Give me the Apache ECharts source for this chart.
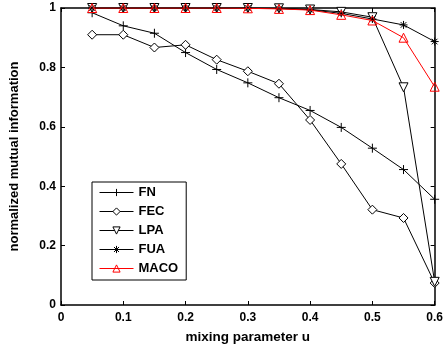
<!DOCTYPE html>
<html>
<head>
<meta charset="utf-8">
<script src="https://cdn.jsdelivr.net/npm/echarts@6/dist/echarts.min.js"></script>
<style>
  html, body { margin: 0; padding: 0; background: #fff; }
  #chart { width: 446px; height: 349px; }
</style>
</head>
<body>
<div id="chart"></div>
<script>
// mixing parameter u
const mixing = [0.05, 0.1, 0.15, 0.2, 0.25, 0.3, 0.35, 0.4, 0.45, 0.5, 0.55, 0.6];

const fnValues   = [0.984, 0.94, 0.915, 0.85, 0.793, 0.748, 0.698, 0.655, 0.598, 0.528, 0.456, 0.356];
const fecValues  = [0.91, 0.91, 0.867, 0.876, 0.826, 0.787, 0.745, 0.623, 0.475, 0.321, 0.293, 0.074];
const lpaValues  = [1, 1, 1, 1, 1, 1, 0.999, 0.995, 0.987, 0.969, 0.733, 0.078];
const fuaValues  = [1, 1, 1, 1, 1, 1, 0.998, 0.994, 0.982, 0.963, 0.943, 0.887];
const macoValues = [1, 1, 1, 1, 1, 0.999, 0.997, 0.993, 0.977, 0.958, 0.9, 0.735];

const FONT = '"Liberation Sans", Arial, sans-serif';
const plusPath = 'path://M5,0L5,10M0,5L10,5';
const starPath = 'path://M5,0L5,10M0,5L10,5M1.5,1.5L8.5,8.5M8.5,1.5L1.5,8.5';

const chart = echarts.init(document.getElementById('chart'), null, { renderer: 'canvas' });

const pairs = vals => mixing.map((u, i) => [u, vals[i]]);

const frameAxis = {
  axisLine: { show: true, onZero: false, lineStyle: { color: '#000', width: 1.5 } },
  axisTick: { show: true, inside: true, length: 4, lineStyle: { color: '#000', width: 1 } },
  splitLine: { show: false }
};

function makeSeries(name, vals, symbol, opts) {
  opts = opts || {};
  const color = opts.color || '#000';
  return {
    name: name,
    type: 'line',
    data: pairs(vals),
    symbol: symbol,
    symbolSize: opts.size || 8,
    symbolRotate: opts.rotate || 0,
    showAllSymbol: true,
    lineStyle: { color: color, width: 1 },
    itemStyle: { color: opts.fill || '#fff', borderColor: color, borderWidth: 1 },
    emphasis: { disabled: true },
    z: opts.z || 2
  };
}

const option = {
  backgroundColor: '#fff',
  animation: false,
  grid: { left: 58, right: 8, top: 8, bottom: 42 },
  legend: {
    orient: 'vertical',
    left: 92,
    top: 182,
    padding: [4, 8, 5, 7],
    itemWidth: 34,
    itemHeight: 9,
    itemGap: 6,
    borderColor: '#000',
    borderWidth: 1,
    backgroundColor: '#fff',
    lineStyle: { width: 1 },
    itemStyle: { borderWidth: 1 },
    textStyle: { fontFamily: FONT, fontWeight: 'bold', fontSize: 13, color: '#000' },
    data: ['FN', 'FEC', 'LPA', 'FUA', 'MACO']
  },
  xAxis: [
    Object.assign({
      type: 'value', min: 0, max: 0.6, interval: 0.1, position: 'bottom',
      name: 'mixing parameter u', nameLocation: 'middle', nameGap: 25,
      nameTextStyle: { fontFamily: FONT, fontWeight: 'bold', fontSize: 13.5, color: '#000' },
      axisLabel: { fontFamily: FONT, fontWeight: 'bold', fontSize: 12, color: '#000', margin: 7 }
    }, frameAxis),
    Object.assign({
      type: 'value', min: 0, max: 0.6, interval: 0.1, position: 'top',
      axisLabel: { show: false }
    }, frameAxis)
  ],
  yAxis: [
    Object.assign({
      type: 'value', min: 0, max: 1, interval: 0.2, position: 'left',
      name: 'normalized mutual information', nameLocation: 'middle', nameGap: 40, nameRotate: 90,
      nameTextStyle: { fontFamily: FONT, fontWeight: 'bold', fontSize: 13, color: '#000' },
      axisLabel: { fontFamily: FONT, fontWeight: 'bold', fontSize: 12, color: '#000', margin: 5 }
    }, frameAxis),
    Object.assign({
      type: 'value', min: 0, max: 1, interval: 0.2, position: 'right',
      axisLabel: { show: false }
    }, frameAxis)
  ],
  series: [
    makeSeries('FN', fnValues, plusPath, { size: 9, fill: 'transparent' }),
    makeSeries('FEC', fecValues, 'diamond', { size: 9 }),
    makeSeries('LPA', lpaValues, 'triangle', { size: 9, rotate: 180 }),
    makeSeries('FUA', fuaValues, starPath, { size: 8, fill: 'transparent' }),
    makeSeries('MACO', macoValues, 'triangle', { size: 9, color: '#ff0000', fill: 'transparent', z: 3 })
  ]
};

chart.setOption(option);
</script>
</body>
</html>
